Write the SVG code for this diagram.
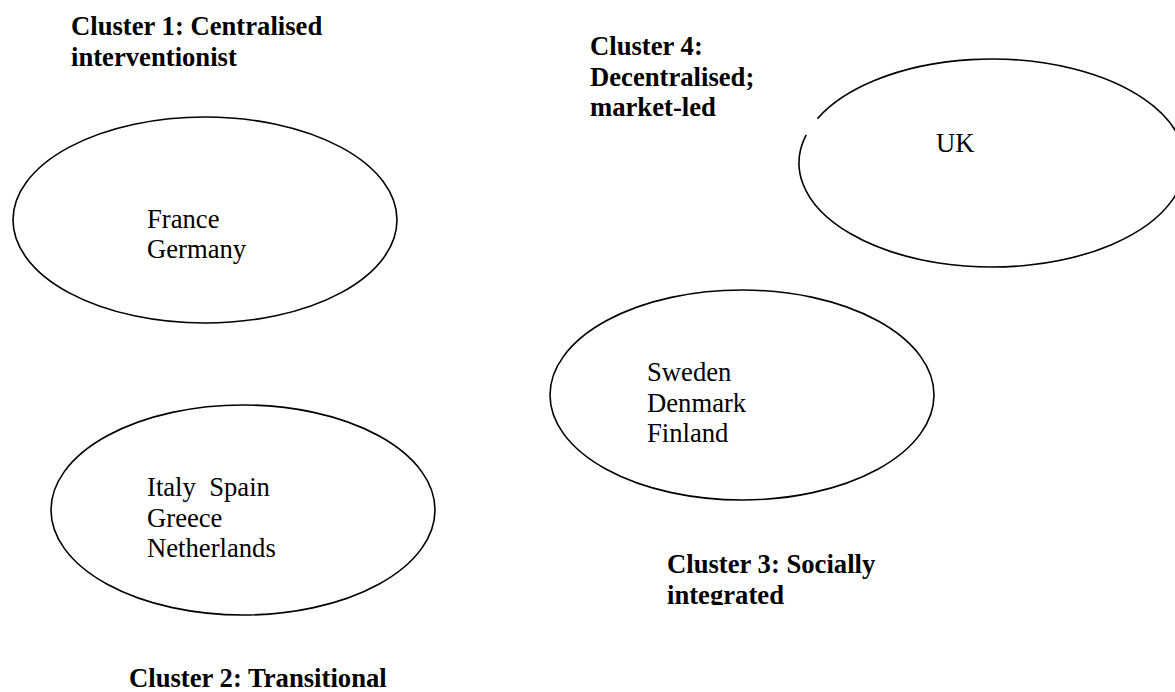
<svg xmlns="http://www.w3.org/2000/svg" width="1175" height="692" viewBox="0 0 1175 692">
  <style>
    .shape { fill: none; stroke: #000; stroke-width: 1.6; }
    .title { font-family: "Liberation Serif", "Times New Roman", serif; font-size: 26.67px; font-weight: bold; fill: #000; }
    .name { font-family: "Liberation Serif", "Times New Roman", serif; font-size: 26.67px; fill: #000; }
  </style>
  <defs>
    <clipPath id="clip3">
      <rect x="600" y="540" width="400" height="65"/>
    </clipPath>
  </defs>
  <rect width="1175" height="692" fill="#fff"/>

  <g id="cluster1">
    <text class="title" x="71" y="35">Cluster 1: Centralised</text>
    <text class="title" x="71" y="65.7">interventionist</text>
    <ellipse class="shape" cx="205" cy="220" rx="192" ry="103"/>
    <text class="name" x="147" y="227.7">France</text>
    <text class="name" x="147" y="258.4">Germany</text>
  </g>

  <g id="cluster2">
    <ellipse class="shape" cx="243" cy="510" rx="192" ry="105"/>
    <text class="name" x="147" y="496" xml:space="preserve">Italy  Spain</text>
    <text class="name" x="147" y="526.7">Greece</text>
    <text class="name" x="147" y="557.4">Netherlands</text>
    <text class="title" x="129" y="687">Cluster 2: Transitional</text>
  </g>

  <g id="cluster3">
    <ellipse class="shape" cx="742" cy="395" rx="192" ry="105"/>
    <text class="name" x="647" y="381">Sweden</text>
    <text class="name" x="647" y="411.7">Denmark</text>
    <text class="name" x="647" y="442.4">Finland</text>
    <g clip-path="url(#clip3)">
      <text class="title" x="667" y="573">Cluster 3: Socially</text>
      <text class="title" x="667" y="603.7">integrated</text>
    </g>
  </g>

  <g id="cluster4">
    <text class="title" x="590" y="55">Cluster 4:</text>
    <text class="title" x="590" y="85.7">Decentralised;</text>
    <text class="title" x="590" y="116.4">market-led</text>
    <path class="shape" d="M 806.2 134.9 A 193 104 0 1 0 817.5 118.6"/>
    <text class="name" x="936" y="152">UK</text>
  </g>

  <g id="connectors"/>
</svg>
